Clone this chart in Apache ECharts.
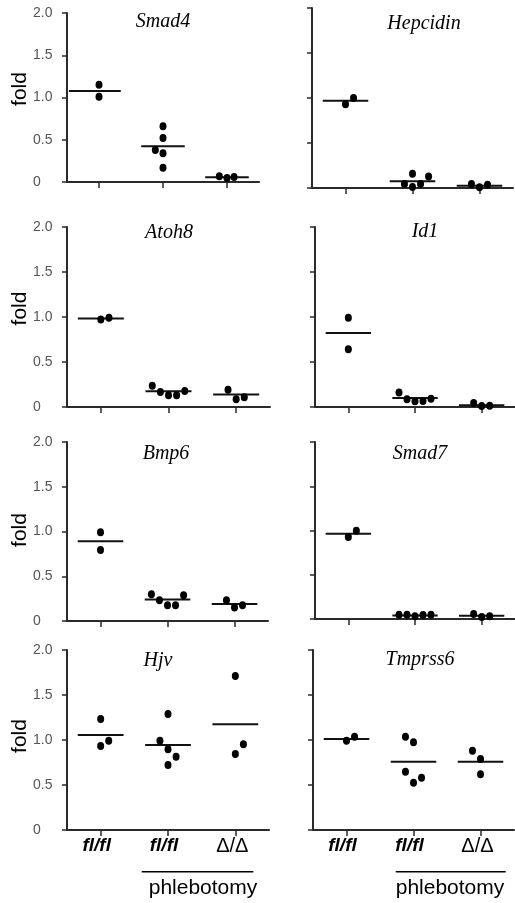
<!DOCTYPE html>
<html><head><meta charset="utf-8">
<script src="https://cdn.jsdelivr.net/npm/echarts@6/dist/echarts.min.js"></script>
<style>html,body{margin:0;padding:0;background:#fff;}#c{width:515px;height:903px;}</style>
</head><body><div id="c"></div>
<script>
// ---- data ----
const groups = ['fl/fl', 'fl/fl', 'Δ/Δ'];
const yTickLabels = ['0', '0.5', '1.0', '1.5', '2.0'];
const genes = ['Smad4', 'Hepcidin', 'Atoh8', 'Id1', 'Bmp6', 'Smad7', 'Hjv', 'Tmprss6'];

const smad4Values    = [[1.15, 1.01], [0.66, 0.52, 0.38, 0.34, 0.17], [0.067, 0.047, 0.059]];
const smad4Means     = [1.077, 0.422, 0.056];
const hepcidinValues = [[0.93, 1.0], [0.044, 0.159, 0.011, 0.044, 0.129], [0.044, 0.007, 0.037]];
const hepcidinMeans  = [0.97, 0.074, 0.026];
const atoh8Values    = [[0.971, 0.993], [0.237, 0.167, 0.13, 0.13, 0.178], [0.193, 0.086, 0.108]];
const atoh8Means     = [0.982, 0.174, 0.138];
const id1Values      = [[0.993, 0.641], [0.16, 0.086, 0.063, 0.067, 0.093], [0.044, 0.011, 0.015]];
const id1Means       = [0.822, 0.10, 0.019];
const bmp6Values     = [[0.991, 0.793], [0.299, 0.232, 0.176, 0.176, 0.288], [0.232, 0.15, 0.176]];
const bmp6Means      = [0.89, 0.24, 0.19];
const smad7Values    = [[0.926, 0.998], [0.049, 0.049, 0.03, 0.045, 0.049], [0.056, 0.023, 0.03]];
const smad7Means     = [0.964, 0.04, 0.037];
const hjvValues      = [[1.233, 0.933, 0.992], [1.289, 0.992, 0.896, 0.815, 0.722], [1.711, 0.844, 0.952]];
const hjvMeans       = [1.056, 0.944, 1.174];
const tmprss6Values  = [[0.992, 1.037], [1.037, 0.974, 0.648, 0.581, 0.526], [0.881, 0.789, 0.619]];
const tmprss6Means   = [1.011, 0.759, 0.759];

// ---- layout (horizontal dot offsets within a category, in category widths) ----
const smad4Jitter    = [[0, 0], [0, 0, -0.12, 0, 0], [-0.12, 0, 0.11]];
const hepcidinJitter = [[0, 0.12], [-0.12, 0, 0, 0.12, 0.24], [-0.12, 0, 0.12]];
const atoh8Jitter    = [[0, 0.12], [-0.24, -0.12, 0, 0.12, 0.24], [-0.12, 0, 0.12]];
const id1Jitter      = [[0, 0], [-0.24, -0.12, 0, 0.12, 0.24], [-0.12, 0, 0.12]];
const bmp6Jitter     = [[0, 0], [-0.24, -0.12, 0, 0.12, 0.24], [-0.12, 0, 0.12]];
const smad7Jitter    = [[0, 0.12], [-0.24, -0.12, 0, 0.12, 0.24], [-0.12, 0, 0.12]];
const hjvJitter      = [[0, 0, 0.12], [0, -0.12, 0, 0.12, 0], [0, 0, 0.12]];
const tmprss6Jitter  = [[0, 0.12], [-0.12, 0, -0.12, 0.12, 0], [-0.12, 0, 0]];

const panels = [
  {gene: genes[0], values: smad4Values, means: smad4Means, jitter: smad4Jitter,
   grid: {left: 67, top: 13, width: 192, height: 169}, labels: true, bottom: false,
   title: [163, 22], fold: 89, spans: [[-0.47, 0.34], [-0.34, 0.34], [-0.34, 0.34]]},
  {gene: genes[1], values: hepcidinValues, means: hepcidinMeans, jitter: hepcidinJitter,
   grid: {left: 312, top: 8, width: 201, height: 180}, labels: false, bottom: false,
   title: [424, 23.5]},
  {gene: genes[2], values: atoh8Values, means: atoh8Means, jitter: atoh8Jitter,
   grid: {left: 67, top: 227, width: 203, height: 180}, labels: true, bottom: false,
   title: [169, 232.5], fold: 308.5},
  {gene: genes[3], values: id1Values, means: id1Means, jitter: id1Jitter,
   grid: {left: 315, top: 227, width: 200, height: 180}, labels: false, bottom: false,
   title: [425, 231.5]},
  {gene: genes[4], values: bmp6Values, means: bmp6Means, jitter: bmp6Jitter,
   grid: {left: 67, top: 442, width: 201, height: 179}, labels: true, bottom: false,
   title: [166, 453.5], fold: 530},
  {gene: genes[5], values: smad7Values, means: smad7Means, jitter: smad7Jitter,
   grid: {left: 315, top: 442, width: 200, height: 177}, labels: false, bottom: false,
   title: [420, 454]},
  {gene: genes[6], values: hjvValues, means: hjvMeans, jitter: hjvJitter,
   grid: {left: 67, top: 650, width: 202, height: 180}, labels: true, bottom: true,
   title: [158, 661], fold: 736},
  {gene: genes[7], values: tmprss6Values, means: tmprss6Means, jitter: tmprss6Jitter,
   grid: {left: 313, top: 650, width: 201, height: 180}, labels: false, bottom: true,
   title: [420, 660]}
];

const AX = '#2a2a2a';
const grids = [], xAxes = [], yAxes = [], series = [], graphics = [];

panels.forEach((p, i) => {
  grids.push(Object.assign({outerBoundsMode: 'none', containLabel: false}, p.grid));
  // visible category axis (ticks, labels)
  xAxes.push({
    type: 'category', gridIndex: i, data: groups, boundaryGap: true,
    axisLine: {show: true, lineStyle: {color: AX, width: 2}},
    axisTick: {show: true, alignWithLabel: true, length: 6, lineStyle: {color: AX, width: 1.5}},
    axisLabel: {
      show: p.bottom, margin: 6, interval: 0,
      formatter: (v, idx) => idx === 2 ? '{d|' + v + '}' : '{f|' + v + '}',
      rich: {
        f: {fontFamily: 'Liberation Sans, Arial', fontStyle: 'italic', fontWeight: 'bold', fontSize: 19, color: '#000', padding: [0, 8, 0, 0]},
        d: {fontFamily: 'Liberation Sans, Arial', fontSize: 20, color: '#000', padding: [0, 6, 0, 0]}
      }
    },
    splitLine: {show: false}
  });
  // hidden numeric axis for positioning dots within categories
  xAxes.push({type: 'value', gridIndex: i, min: 0, max: groups.length, show: false, splitLine: {show: false}});
  yAxes.push({
    type: 'value', gridIndex: i, min: 0, max: 2, interval: 0.5,
    axisLine: {show: true, lineStyle: {color: AX, width: 2}},
    axisTick: {show: true, length: 5, lineStyle: {color: AX, width: 1.5}},
    axisLabel: {
      show: p.labels, align: 'left', margin: 34, color: '#555', fontSize: 14,
      fontFamily: 'Liberation Sans, Arial',
      formatter: v => yTickLabels[Math.round(v / 0.5)]
    },
    splitLine: {show: false}
  });

  const pts = [];
  p.values.forEach((arr, g) => arr.forEach((v, k) => pts.push([g + 0.5 + p.jitter[g][k], v])));
  const spans = p.spans || [[-0.34, 0.34], [-0.34, 0.34], [-0.34, 0.34]];

  series.push({
    type: 'custom', xAxisIndex: 2 * i + 1, yAxisIndex: i, z: 2,
    data: p.means.map((m, g) => [g, m]),
    encode: {x: 0, y: 1},
    renderItem: (params, api) => {
      const g = api.value(0), m = api.value(1);
      const a = api.coord([g + 0.5 + spans[g][0], m]);
      const b = api.coord([g + 0.5 + spans[g][1], m]);
      return {type: 'line', shape: {x1: a[0], y1: a[1], x2: b[0], y2: b[1]},
              style: {stroke: '#111', lineWidth: 2}};
    }
  });
  series.push({
    type: 'scatter', xAxisIndex: 2 * i + 1, yAxisIndex: i, z: 3,
    symbol: 'circle', symbolSize: [7, 8], data: pts,
    itemStyle: {color: '#000', opacity: 1}, silent: true
  });

  graphics.push({
    type: 'text', x: p.title[0], y: p.title[1],
    style: {text: p.gene, fontFamily: 'Liberation Serif, Times New Roman', fontStyle: 'italic',
            fontSize: 20, fill: '#000', textAlign: 'center', textVerticalAlign: 'middle'}
  });
  if (p.fold !== undefined) {
    graphics.push({
      type: 'text', x: 20, y: p.fold, rotation: Math.PI / 2,
      style: {text: 'fold', fontFamily: 'Liberation Sans, Arial', fontSize: 21, fill: '#000',
              textAlign: 'center', textVerticalAlign: 'middle'}
    });
  }
});

// phlebotomy brackets
[[141.7, 253.3, 203], [395.7, 505.7, 450]].forEach(b => {
  graphics.push({type: 'line', shape: {x1: b[0], y1: 871.7, x2: b[1], y2: 871.7},
                 style: {stroke: '#000', lineWidth: 1.5}});
  graphics.push({type: 'text', x: b[2], y: 888,
                 style: {text: 'phlebotomy', fontFamily: 'Liberation Sans, Arial', fontSize: 21,
                         fill: '#000', textAlign: 'center', textVerticalAlign: 'middle'}});
});

const chart = echarts.init(document.getElementById('c'), null, {renderer: 'canvas'});
chart.setOption({
  animation: false, backgroundColor: '#fff',
  grid: grids, xAxis: xAxes, yAxis: yAxes, series: series, graphic: graphics
});
</script>
</body></html>
